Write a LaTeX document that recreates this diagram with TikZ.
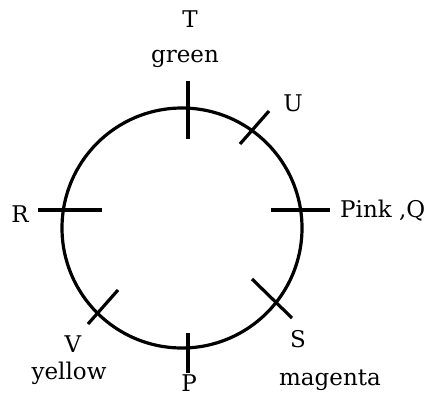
\documentclass[tikz,border=0pt]{standalone}
\usepackage{fontspec}
\setmainfont{DejaVu Serif}
\usetikzlibrary{positioning}
\tikzset{
  ring/.style={draw=black, line width=3.2pt},
  mark line/.style={draw=black, line width=3.2pt},
  lbl/.style={font=\fontsize{23}{26}\selectfont, anchor=base, inner sep=0pt},
}

\begin{document}
\begin{tikzpicture}[x=1pt, y=-1pt]
  \useasboundingbox (0,0) rectangle (426,392);
  \coordinate (c) at (182,228);
  \draw[ring] (c) circle[radius=120];

  % marks across the ring
  \draw[mark line] (188,81)  -- (188,139);
  \draw[mark line] (240,144) -- (269,111);
  \draw[mark line] (271,210) -- (330,210);
  \draw[mark line] (252,279) -- (292,318);
  \draw[mark line] (188,333) -- (188,373);
  \draw[mark line] (88,324)  -- (118,290);
  \draw[mark line] (38,210)  -- (102,210);

  % seats and colours
  \node[lbl] (t)     at (190,27)  {T};
  \node[lbl] (green) at (185,62)  {green};
  \node[lbl] (u)     at (293,111) {U};
  \node[lbl, anchor=base west] (q) at (340,217) {Pink ,Q};
  \node[lbl] (s)     at (298,347) {S};
  \node[lbl] (mag)   at (330,385) {magenta};
  \node[lbl] (p)     at (189,391) {P};
  \node[lbl] (v)     at (73,352)  {V};
  \node[lbl] (yel)   at (69,379)  {yellow};
  \node[lbl] (r)     at (20,222)  {R};
\end{tikzpicture}
\end{document}
